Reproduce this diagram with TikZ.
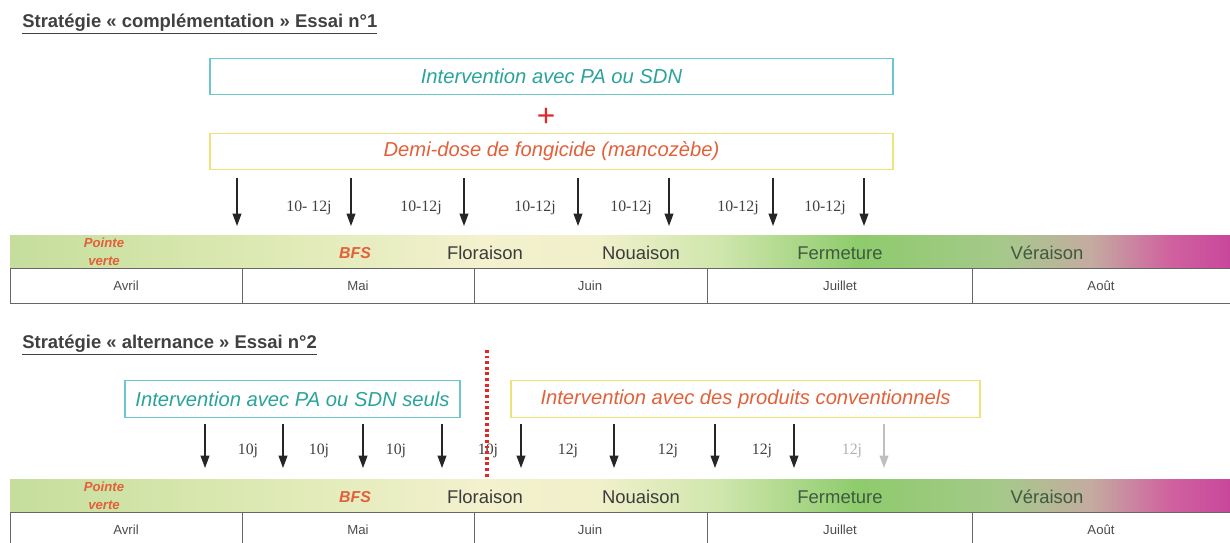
\documentclass[tikz,border=0pt]{standalone}
\usepackage{fontspec}
\setmainfont{Liberation Sans}
\newfontfamily\daysfont{Liberation Serif}
\usetikzlibrary{arrows.meta,positioning}

\definecolor{tealtxt}{HTML}{2AA39B}
\definecolor{cyanframe}{HTML}{6CC6CE}
\definecolor{yellowframe}{HTML}{EEE27A}
\definecolor{orangetxt}{HTML}{E2603A}
\definecolor{redplus}{HTML}{E32626}
\definecolor{phasetxt}{HTML}{3C3C3C}
\definecolor{greentxt}{HTML}{3E5A40}
\definecolor{gridgray}{HTML}{666666}
% colours of the phenology bar
\definecolor{gA}{HTML}{C5DE9C}
\definecolor{gB}{HTML}{DCE9B2}
\definecolor{gC}{HTML}{F3F1CE}
\definecolor{gD}{HTML}{F0F0CA}
\definecolor{gE}{HTML}{CFE6AC}
\definecolor{gF}{HTML}{8ECB6C}
\definecolor{gG}{HTML}{A5C98A}
\definecolor{gH}{HTML}{C4ABA0}
\definecolor{gI}{HTML}{D0629F}
\definecolor{gJ}{HTML}{C9479B}
\pgfdeclarehorizontalshading{phenobar}{100bp}{color(0bp)=(gA); color(25bp)=(gA);
  color(34.8bp)=(gB); color(44.3bp)=(gC); color(49.2bp)=(gD); color(54.1bp)=(gE);
  color(59.8bp)=(gF); color(65.6bp)=(gG); color(69.3bp)=(gH); color(72.5bp)=(gI);
  color(75bp)=(gJ); color(100bp)=(gJ)}

% one phenology bar with its month table: #1 = top of the bar, #2 = name prefix
\newcommand{\phenorow}[2]{%
  \shade[shading=phenobar] (10,#1) rectangle (1230,#1+33);
  \node[stage, font=\itshape\bfseries\fontsize{7.5}{10}\selectfont, align=center, inner sep=0pt] (#2pv) at (104,#1+17) {Pointe\\verte};
  \node[stage] (#2bfs) at (355,#1+18) {BFS};
  \node[phase] (#2flo) at (485,#1+18) {Floraison};
  \node[phase] (#2nou) at (641,#1+18) {Nouaison};
  \node[phase, text=greentxt] (#2fer) at (840,#1+18) {Fermeture};
  \node[phase, text=greentxt] (#2ver) at (1047,#1+18) {Véraison};
  \draw[grid] (1230,#1+33) -- (10,#1+33) -- (10,#1+68) -- (1230,#1+68);
  \foreach \x in {242,474,707,972} \draw[grid] (\x,#1+33) -- (\x,#1+68);
  \foreach \m/\x [count=\k] in {Avril/126,Mai/358,Juin/590,Juillet/840,Août/1101}
    \node[month] (#2m\k) at (\x,#1+51) {\m};
}

\begin{document}
\begin{tikzpicture}[x=0.02cm, y=-0.02cm,
  heading/.style={anchor=west, inner sep=0pt, text=black!75, font=\bfseries\fontsize{10.5}{12}\selectfont},
  frame/.style={draw, line width=0.8pt, inner sep=0pt, minimum height=0.73cm, font=\itshape\fontsize{11.5}{13}\selectfont},
  biobox/.style={frame, draw=cyanframe, text=tealtxt},
  chembox/.style={frame, draw=yellowframe, text=orangetxt},
  treat/.style={-{Triangle[width=5pt,length=7pt]}, line width=0.7pt, draw=black!85},
  gap/.style={inner sep=1pt, text=black!75, font=\daysfont\fontsize{9}{11}\selectfont},
  stage/.style={text=orangetxt, font=\itshape\bfseries\fontsize{9}{11}\selectfont},
  phase/.style={text=phasetxt, font=\fontsize{10.5}{12}\selectfont},
  month/.style={text=black!70, font=\fontsize{7.5}{9}\selectfont},
  grid/.style={draw=gridgray, line width=0.5pt}]
  \useasboundingbox (0,0) rectangle (1230,542);

  % --- essai 1 ---
  \node[heading] (title1) at (22,24) {\underline{Stratégie « complémentation » Essai n°1}};
  \node[biobox, minimum width=13.66cm] (pa1) at (551.5,76.5) {Intervention avec PA ou SDN};
  \node[text=redplus, inner sep=0pt, font=\fontsize{18}{18}\selectfont] (plus) at (546,117) {+};
  \node[chembox, minimum width=13.66cm] (fung1) at (551.5,151.5) {Demi-dose de fongicide (mancozèbe)};

  \foreach \x [count=\i] in {237,351,464,578,669,773,864} {
    \coordinate (s\i) at (\x,178);
    \coordinate (e\i) at (\x,226);
    \draw[treat] (s\i) -- (e\i);
  }
  \foreach \x/\t [count=\i] in {309/10- 12j,421/10-12j,535/10-12j,631/10-12j,738/10-12j,825/10-12j}
    \node[gap] (g\i) at (\x,208) {\t};

  \phenorow{235}{a}

  % --- essai 2 ---
  \node[heading] (title2) at (22,345) {\underline{Stratégie « alternance » Essai n°2}};
  \node[biobox, minimum width=6.7cm] (pa2) at (292.5,399) {Intervention avec PA ou SDN seuls};
  \node[chembox, minimum width=9.38cm] (conv) at (745.5,399) {Intervention avec des produits conventionnels};

  \foreach \x [count=\i] in {205,283,363,442,521,614,715,794} {
    \coordinate (t\i) at (\x,424);
    \coordinate (u\i) at (\x,468);
    \draw[treat] (t\i) -- (u\i);
  }
  \coordinate (t9) at (884,424);
  \coordinate (u9) at (884,468);
  \draw[treat, draw=black!25] (t9) -- (u9);

  \foreach \x/\t [count=\i] in {248/10j,319/10j,396/10j,488/10j,568/12j,668/12j,762/12j}
    \node[gap] (h\i) at (\x,451) {\t};
  \node[gap, text=black!30] (h8) at (852,451) {12j};

  \coordinate (cutT) at (487,350);
  \coordinate (cutB) at (487,478);
  \draw[redplus, line width=2pt, dash pattern=on 1.6pt off 1.6pt] (cutT) -- (cutB);

  \phenorow{479}{b}
\end{tikzpicture}
\end{document}
